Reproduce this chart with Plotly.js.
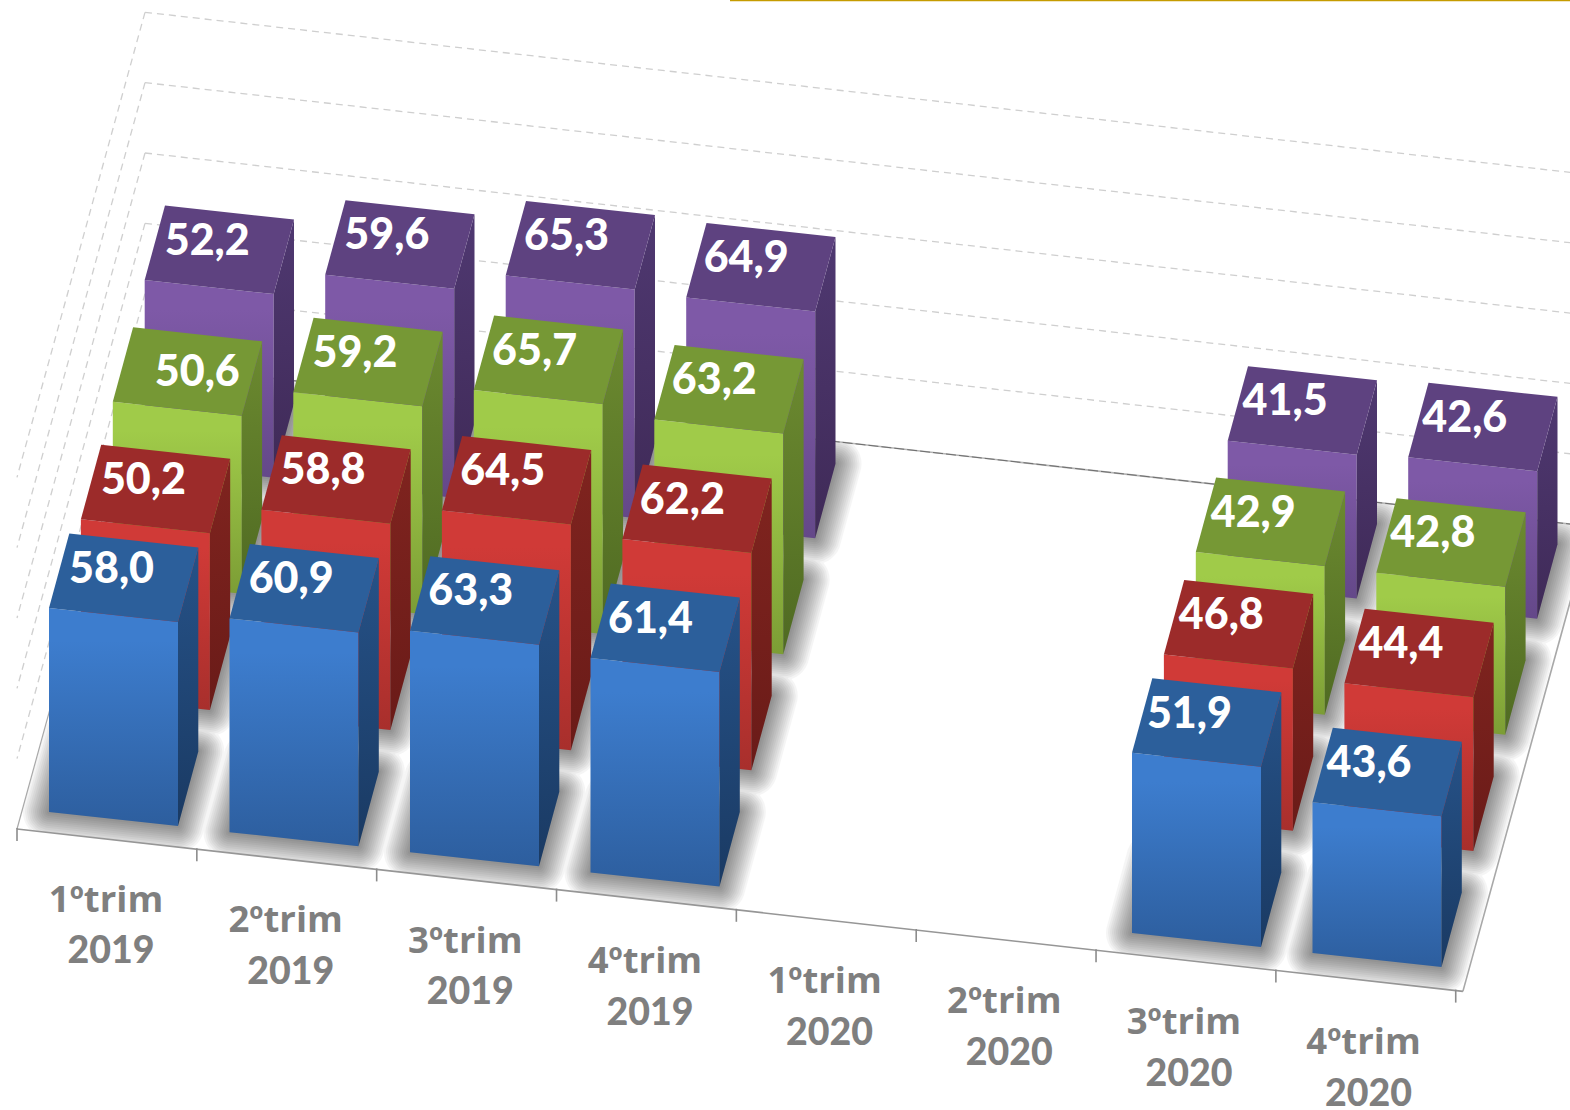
<!DOCTYPE html>
<html>
<head>
<meta charset="utf-8">
<script src="https://cdn.plot.ly/plotly-3.0.1.min.js"></script>
<style>html,body{margin:0;padding:0;background:#fff;overflow:hidden}</style>
</head>
<body>
<div id="chart" style="width:1570px;height:1110px"></div>
<script>
// ---- data (front row first, back row last) ----
var quarters = ['1ºtrim','2ºtrim','3ºtrim','4ºtrim','1ºtrim','2ºtrim','3ºtrim','4ºtrim'];
var years    = ['2019','2019','2019','2019','2020','2020','2020','2020'];
var seriesBlue   = [58.0,60.9,63.3,61.4,null,null,51.9,43.6];
var seriesRed    = [50.2,58.8,64.5,62.2,null,null,46.8,44.4];
var seriesGreen  = [50.6,59.2,65.7,63.2,null,null,42.9,42.8];
var seriesPurple = [52.2,59.6,65.3,64.9,null,null,41.5,42.6];
var gridLevels = [20,40,60,80,100];

var rows = [seriesBlue, seriesRed, seriesGreen, seriesPurple];
var palette = [
  {top:'#2c5f9b', f1:'#3d7dce', f2:'#2d5e9e', s1:'#265288', s2:'#1a3a63'},
  {top:'#9c2b2a', f1:'#d03a37', f2:'#a82f2c', s1:'#80241f', s2:'#6a1b18'},
  {top:'#769835', f1:'#a0cb49', f2:'#7c9d35', s1:'#6c8a30', s2:'#4f6a22'},
  {top:'#5e4280', f1:'#7e59a7', f2:'#644889', s1:'#4f3871', s2:'#3f2a57'}
];

// ---- oblique projection of the chart's 3D space onto the axes ----
var unit = 3.517;                     // px per value unit at the left
function barCorner(c, s, wFrac, dFrac, v) {
  return [49 + 180.5*c + 31.9*s + 129*wFrac + 20.3*dFrac,
          812 + 20.15*c - 116.1*s + 14*wFrac - 74.5*dFrac - (unit - 0.008*c)*v];
}
function floorPt(c, d) {              // c: category position, d: depth 0..1
  return [17 + 179.84*c + 128*d, 829 + 20.2*c - 465*d];
}
var traces = [];
function poly(pts, extra) {
  var xs = pts.map(function(p){return p[0];}), ys = pts.map(function(p){return p[1];});
  var t = {type:'scatter', mode:'lines', x:xs.concat([xs[0]]), y:ys.concat([ys[0]]),
           fill:'toself', line:{width:0}, hoverinfo:'skip', showlegend:false};
  for (var k in extra) t[k] = extra[k];
  traces.push(t);
}
function line(a, b, color, width, dash) {
  traces.push({type:'scatter', mode:'lines', x:[a[0],b[0]], y:[a[1],b[1]],
    line:{color:color, width:width, dash:dash||'solid'}, hoverinfo:'skip', showlegend:false});
}

// ---- soft floor shadows: footprints grown by a radius, layer on layer ----
var radii = [];
for (var r = 26; r >= 0; r -= 2) radii.push(r);
radii.forEach(function(rad){
  var xs = [], ys = [];
  rows.forEach(function(row, s){
    row.forEach(function(v, c){
      if (v === null) return;
      var corners = [[0,0],[1,0],[1,1],[0,1]].map(function(q){ return barCorner(c,s,q[0],q[1],0); });
      for (var i = 0; i <= 36; i++) {
        var a = i/36*2*Math.PI, dx = Math.cos(a), dy = Math.sin(a), best = null, bd = -1e9;
        corners.forEach(function(p){ var d = p[0]*dx + p[1]*dy; if (d > bd) { bd = d; best = p; } });
        xs.push(best[0] + rad*dx); ys.push(best[1] + rad*dy);
      }
      xs.push(null); ys.push(null);
    });
  });
  traces.push({type:'scatter', mode:'lines', x:xs, y:ys, fill:'toself', fillcolor:'#000',
    line:{width:0}, opacity:0.036, hoverinfo:'skip', showlegend:false});
});

// ---- white masks keep the shadow on the floor ----
var fl = floorPt(0,0), fr = floorPt(8.04,0), bl = floorPt(0,1), br = floorPt(8.04,1);
var mask = {fillcolor:'#fff'};
poly([bl, br, [br[0]+600, br[1]], [br[0]+600,-200], [-200,-200], [-200, bl[1]]], mask);
poly([fl, fr, [fr[0]+400, fr[1]+45], [1900,1300], [-200,1300], [-200, fl[1]]], mask);
poly([fl, bl, [-200,bl[1]], [-200,fl[1]]], mask);
poly([fr, br, [2200,br[1]], [2200,fr[1]+45]], mask);

// ---- walls and floor frame ----
var wallColor = '#cfcfcf', wallDash = '7px,5px';
gridLevels.forEach(function(level){
  var up = level*unit;
  var corner = [bl[0], bl[1]-up], front = [fl[0], fl[1]-up], right = [br[0], br[1]-up];
  line(corner, front, wallColor, 1.3, wallDash);
  line(corner, right, wallColor, 1.3, wallDash);
});
line(bl, br, '#b5b5b5', 1.6);
line(bl, br, '#6e6e6e', 1, '10px,3px');
line(fl, bl, '#a8a8a8', 1.2);
line(fr, br, '#a8a8a8', 1.6);
line(fl, fr, '#969696', 1.6);
quarters.concat(['']).forEach(function(q, c){
  var p = floorPt(c,0);
  line([p[0], p[1]-1], [p[0], p[1]+12], '#8c8c8c', 1.6);
});

// ---- bars, back row first ----
for (var s = rows.length-1; s >= 0; s--) {
  rows[s].forEach(function(v, c){
    if (v === null) return;
    var col = palette[s];
    var ftl = barCorner(c,s,0,0,v), ftr = barCorner(c,s,1,0,v),
        fbl = barCorner(c,s,0,0,0), fbr = barCorner(c,s,1,0,0),
        btl = barCorner(c,s,0,1,v), btr = barCorner(c,s,1,1,v),
        bbr = barCorner(c,s,1,1,0);
    poly([ftl,ftr,fbr,fbl], {fillcolor:col.f1, fillgradient:{type:'vertical',
      start:ftl[1], stop:fbr[1], colorscale:[[0,col.f1],[0.15,col.f1],[1,col.f2]]}});
    poly([ftr,btr,bbr,fbr], {fillcolor:col.s1, fillgradient:{type:'vertical',
      start:btr[1], stop:fbr[1], colorscale:[[0,col.s1],[1,col.s2]]}});
    poly([ftl,btl,btr,ftr], {fillcolor:col.top});
  });
}

// ---- data labels ----
var labelX = [], labelY = [], labelText = [];
rows.forEach(function(row, s){
  row.forEach(function(v, c){
    if (v === null) return;
    var p = barCorner(c,s,0,0,v);
    var moved = (s === 2 && c === 0);   // this label sits off-pattern in the reference
    labelX.push(p[0] + 62.5 - 0.85*c + (moved ? 22 : 0));
    labelY.push(p[1] - 36 + (moved ? 9 : 0));
    labelText.push(v.toFixed(1).replace('.', ','));
  });
});
traces.push({type:'scatter', mode:'text', x:labelX, y:labelY, text:labelText,
  textposition:'middle center', cliponaxis:false, hoverinfo:'skip', showlegend:false,
  textfont:{family:'Lato', size:43, color:'#fff', weight:900}});

// ---- category labels, two lines each ----
traces.push({type:'scatter', mode:'text',
  x:quarters.map(function(q,c){return 106 + 179.65*c;}),
  y:quarters.map(function(q,c){return 903 + 20.25*c;}),
  text:quarters, textposition:'middle center', cliponaxis:false, hoverinfo:'skip', showlegend:false,
  textfont:{family:'Open Sans', size:36.5, color:'#7f7f7f', weight:700}});
traces.push({type:'scatter', mode:'text',
  x:years.map(function(q,c){return 111 + 179.65*c;}),
  y:years.map(function(q,c){return 954 + 20.4*c;}),
  text:years, textposition:'middle center', cliponaxis:false, hoverinfo:'skip', showlegend:false,
  textfont:{family:'Lato', size:37.5, color:'#7f7f7f', weight:900}});

// ---- thin rule at the top edge ----
line([730,0.5],[1570,0.5],'#c59b00',1.4);

Plotly.newPlot('chart', traces, {
  width:1570, height:1110, margin:{l:0,r:0,t:0,b:0,pad:0},
  paper_bgcolor:'#fff', plot_bgcolor:'#fff', showlegend:false,
  xaxis:{range:[0,1570], visible:false, fixedrange:true},
  yaxis:{range:[1110,0], visible:false, fixedrange:true}
}, {displayModeBar:false, staticPlot:true});
</script>
</body>
</html>
